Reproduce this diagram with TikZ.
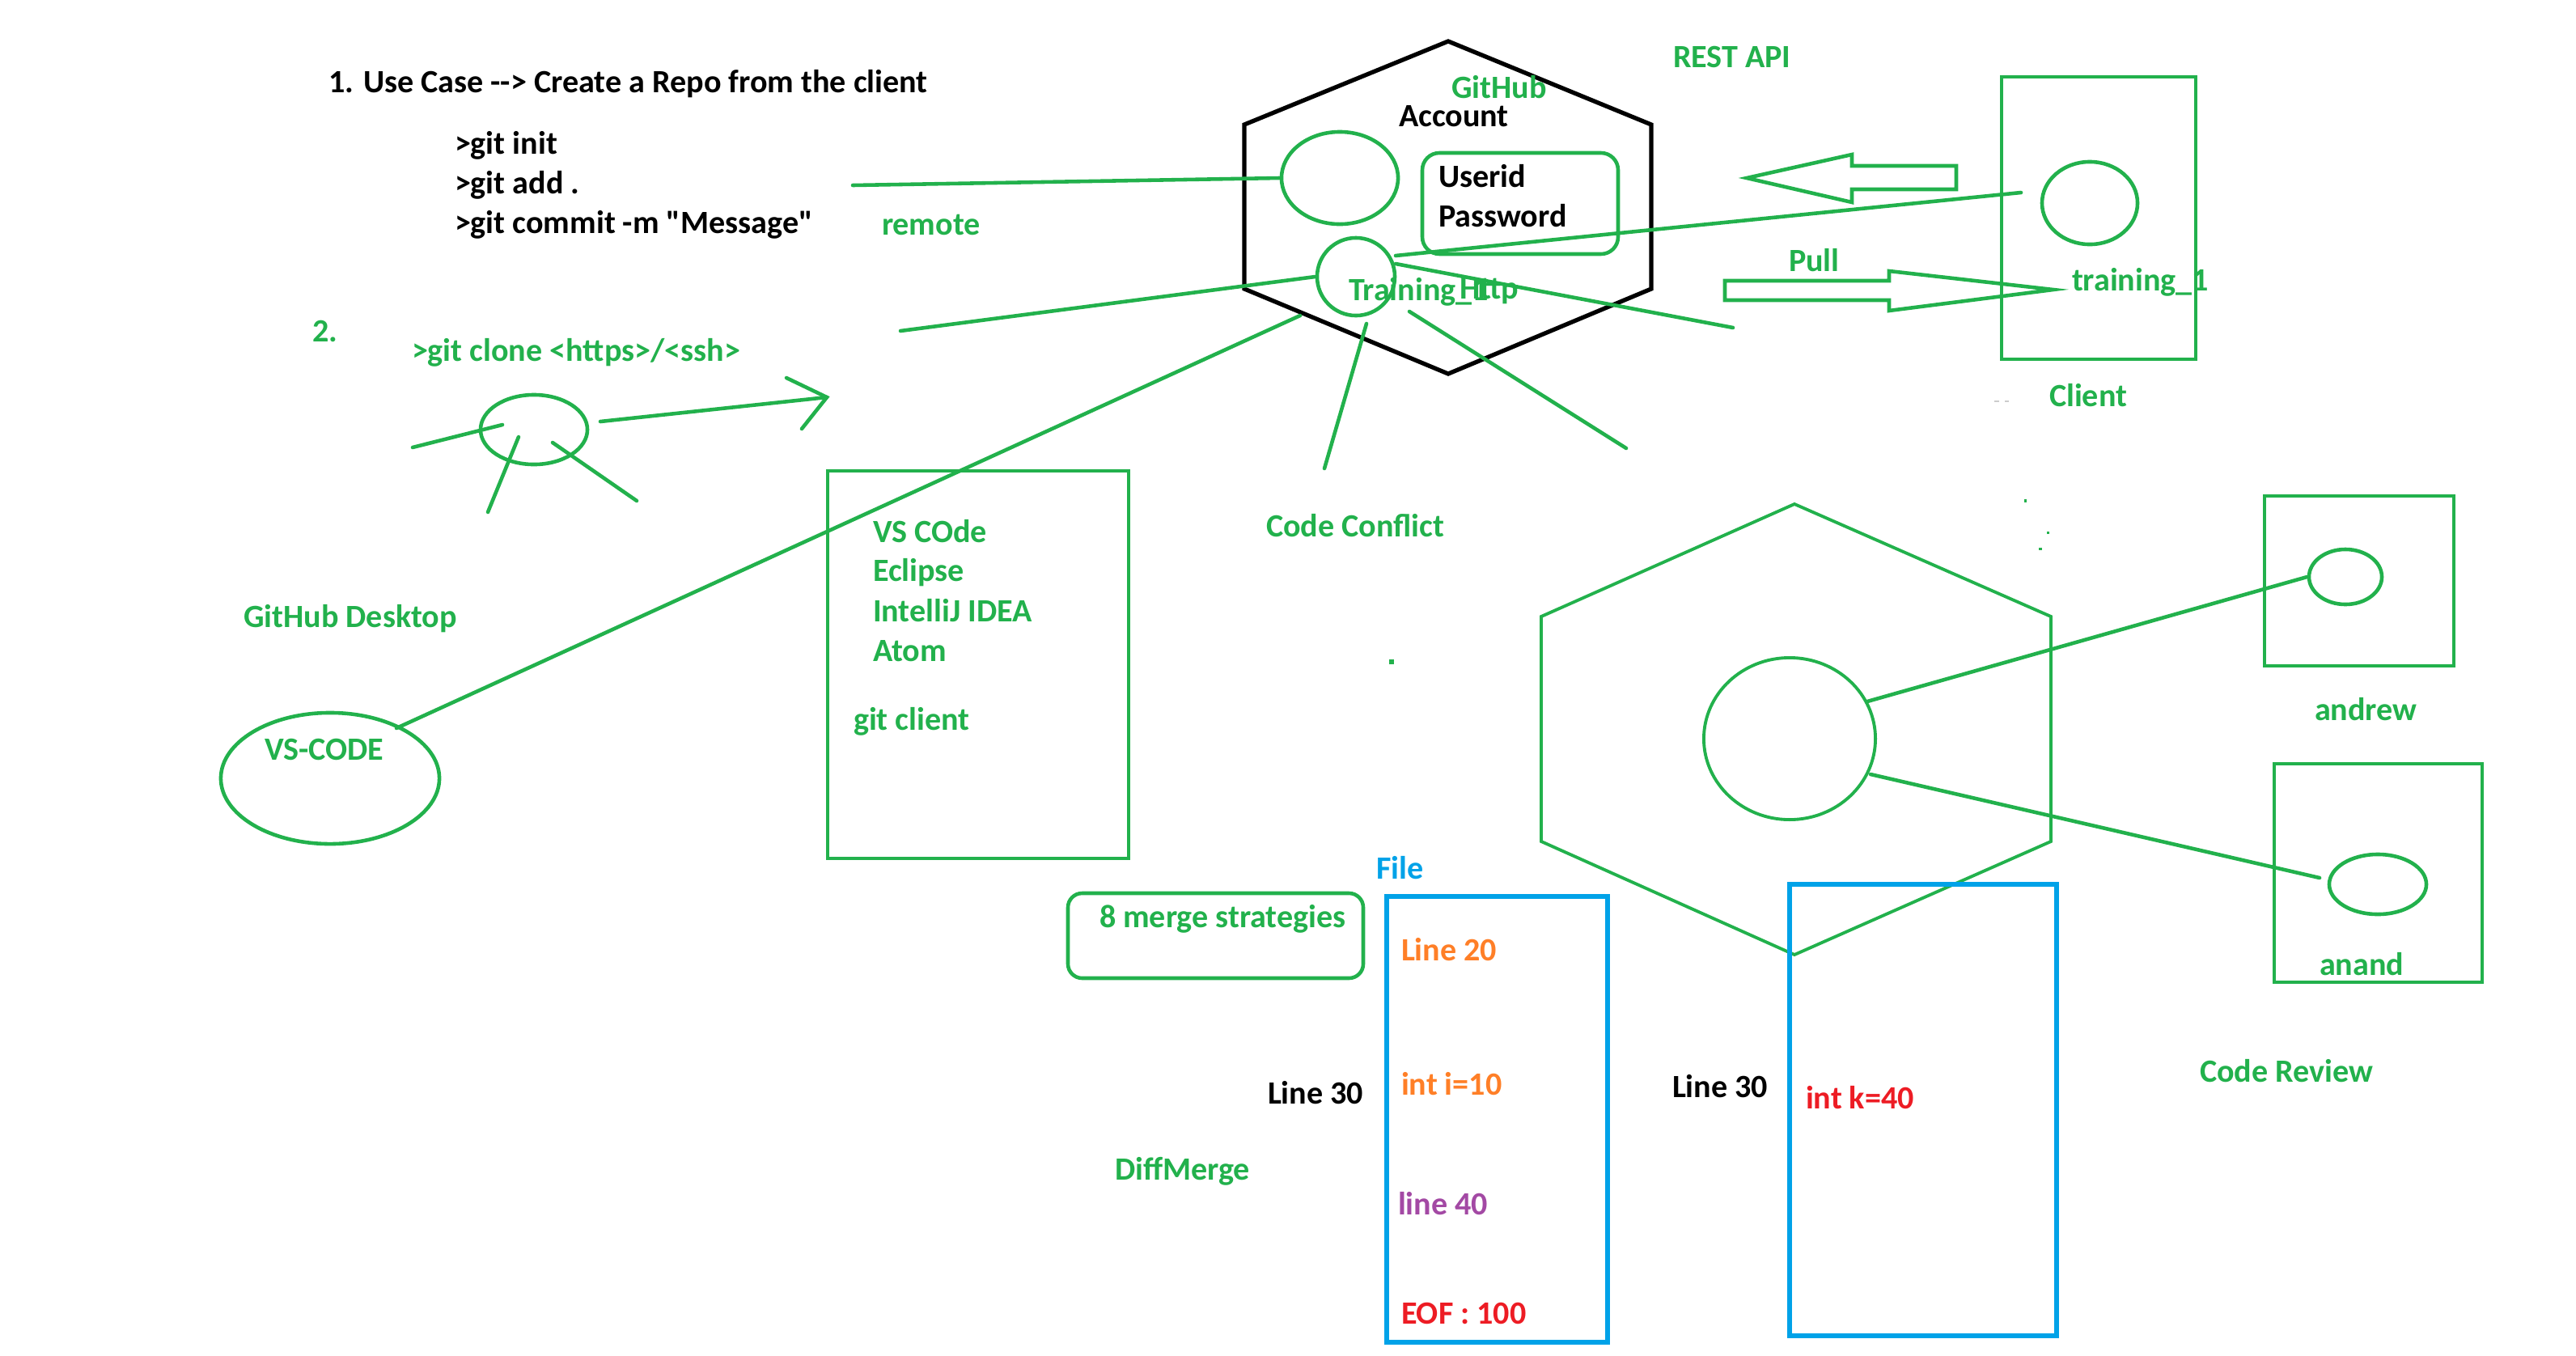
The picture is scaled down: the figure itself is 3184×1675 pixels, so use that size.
\documentclass[tikz,border=0pt]{standalone}
\usepackage{fontspec}
\setmainfont{Carlito}[Ligatures=TeXOff]
\usetikzlibrary{shapes.geometric}
\definecolor{pgreen}{HTML}{22B14C}
\definecolor{pblue}{HTML}{00A2E8}
\definecolor{porange}{HTML}{FF7F27}
\definecolor{ppurple}{HTML}{A349A4}
\definecolor{pred}{HTML}{ED1C24}
\begin{document}
\begin{tikzpicture}[x=0.01cm,y=-0.01cm,
  txt/.style={anchor=base west, inner sep=0pt, outer sep=0pt, font=\fontsize{11.4}{14}\selectfont\bfseries},
  gtxt/.style={txt, text=pgreen},
  gline/.style={draw=pgreen, line width=1.3pt, line cap=round},
  gshape/.style={draw=pgreen, line width=1.3pt},
  oval/.style={ellipse, draw=pgreen, line width=1.3pt, inner sep=0pt},
  bbox/.style={draw=pblue, line width=1.6pt},
  hexblack/.style={draw=black, line width=1.5pt, line join=miter},
  hexgreen/.style={draw=pgreen, line width=1.1pt, line join=miter}]
\useasboundingbox (0,0) rectangle (3184,1675);

% ---------- top-left texts ----------
\node[txt] (title) at (406,114) {1. Use Case --> Create a Repo from the client};
\node[txt] (cmd1) at (562,190) {>git init};
\node[txt] (cmd2) at (562,239) {>git add .};
\node[txt] (cmd3) at (562,288) {>git commit -m "Message"};
\node[gtxt] (remote) at (1090,290) {remote};
\node[gtxt] (two) at (386,422) {2.};
\node[gtxt] (clone) at (509,446) {>git clone <https>/<ssh>};

% ---------- clone sketch ----------
\node[oval, minimum width=1.32cm, minimum height=0.86cm] (clonecirc) at (660,531) {};
\coordinate (cl1a) at (510,553); \coordinate (cl1b) at (621,525);
\coordinate (cl2a) at (641,540); \coordinate (cl2b) at (603,633);
\coordinate (cl3a) at (683,547); \coordinate (cl3b) at (787,619);
\coordinate (cla) at (742,521); \coordinate (clb) at (1022,491);
\coordinate (clh1) at (972,467); \coordinate (clh2) at (991,530);
\draw[gline] (cl1a) -- (cl1b);
\draw[gline] (cl2a) -- (cl2b);
\draw[gline] (cl3a) -- (cl3b);
\draw[gline] (cla) -- (clb);
\draw[gline, line join=miter] (clh1) -- (clb) -- (clh2);

% ---------- GitHub hexagon ----------
\draw[hexblack] (1790,51) -- (2041,154) -- (2041,357) -- (1790,462) -- (1538,357) -- (1538,154) -- cycle;
\node[gtxt] (github) at (1794,121) {GitHub};
\node[txt] (account) at (1729,156) {Account};
\node[oval, minimum width=1.44cm, minimum height=1.14cm] (repo) at (1656,220) {};
\draw[gshape, rounded corners=6pt] (1758,189) rectangle (2000,314);
\node[txt] (userid) at (1778,231) {Userid};
\node[txt] (password) at (1778,280) {Password};
\node[oval, minimum width=0.96cm, minimum height=0.96cm] (training) at (1676,342) {};
\node[gtxt] (trainingtxt) at (1667,371) {Training\_1};
\node[gtxt] (http) at (1804,369) {Http};

\coordinate (remA) at (1054,229);
\draw[gline] (remA) -- (repo.west);
\coordinate (trL) at (1113,409);
\draw[gline] (training.west) -- (trL);
\coordinate (trA) at (1725,316); \coordinate (clientIn) at (2498,238);
\draw[gline] (trA) -- (clientIn);
\coordinate (trB) at (1725,326); \coordinate (trBend) at (2142,405);
\draw[gline] (trB) -- (trBend);
\coordinate (hx1) at (1607,390);
\coordinate (hx2) at (1689,400); \coordinate (hx2end) at (1637,579);
\coordinate (hx3) at (1742,385); \coordinate (hx3end) at (2010,554);
\draw[gline] (hx2) -- (hx2end);
\draw[gline] (hx3) -- (hx3end);

% ---------- REST API / client ----------
\node[gtxt] (rest) at (2068,83) {REST API};
\draw[gshape, line join=miter] (2159,220) -- (2289,191) -- (2289,205) -- (2418,205) -- (2418,234) -- (2289,234) -- (2289,250) -- cycle;
\draw[gshape, line join=miter] (2132,347) -- (2335,347) -- (2335,335) -- (2538,358) -- (2335,384) -- (2335,371) -- (2132,371) -- cycle;
\node[gtxt] (pull) at (2211,335) {Pull};
\draw[gshape] (2474,95) rectangle (2714,444);
\node[oval, minimum width=1.18cm, minimum height=1.02cm] (clientcirc) at (2583,251) {};
\node[gtxt] (training1) at (2561,359) {training\_1};
\node[gtxt] (client) at (2533,502) {Client};
\draw[gray!40, line width=0.4pt] (2465,496) -- (2471,496) (2478,496) -- (2483,496);

% ---------- Code conflict ----------
\node[gtxt] (conflict) at (1565,663) {Code Conflict};
\fill[pgreen] (1717,815) rectangle (1723,821);

% ---------- left: GitHub Desktop / VS-CODE ----------
\node[gtxt] (desktop) at (301,775) {GitHub Desktop};
\node[oval, minimum width=2.70cm, minimum height=1.62cm] (vscode) at (408,962) {};
\node[gtxt] (vscodetxt) at (327,939) {VS-CODE};
\coordinate (vsend) at (490,900);
\draw[gline] (hx1) -- (vsend);

% ---------- git client box ----------
\draw[gshape] (1023,582) rectangle (1395,1061);
\node[gtxt] (ide1) at (1079,670) {VS COde};
\node[gtxt] (ide2) at (1079,718) {Eclipse};
\node[gtxt] (ide3) at (1079,768) {IntelliJ IDEA};
\node[gtxt] (ide4) at (1079,817) {Atom};
\node[gtxt] (gitclient) at (1055,902) {git client};

% ---------- merge area ----------
\node[txt, text=pblue] (file) at (1701,1086) {File};
\draw[gshape, rounded corners=5pt] (1320,1104) rectangle (1685,1209);
\node[gtxt] (merge) at (1359,1146) {8 merge strategies};
\draw[bbox] (1714,1108) rectangle (1987,1659);
\node[txt, text=porange] (l20) at (1732,1187) {Line 20};
\node[txt, text=porange] (inti) at (1732,1353) {int i=10};
\node[txt, text=ppurple] (l40) at (1728,1501) {line 40};
\node[txt, text=pred] (eof) at (1732,1636) {EOF : 100};
\node[txt] (l30a) at (1567,1364) {Line 30};
\node[gtxt] (diff) at (1378,1458) {DiffMerge};
\node[txt] (l30b) at (2067,1356) {Line 30};

% ---------- code review hexagon ----------
\draw[hexgreen] (2218,623) -- (2535,762) -- (2535,1040) -- (2218,1180) -- (1905,1040) -- (1905,762) -- cycle;
\draw[bbox] (2212,1093) rectangle (2542,1651);
\node[txt, text=pred] (intk) at (2232,1370) {int k=40};
\node[oval, line width=1.1pt, minimum width=2.12cm, minimum height=2.00cm] (central) at (2212,913) {};
\draw[gshape] (2799,613) rectangle (3033,823);
\node[oval, minimum width=0.90cm, minimum height=0.68cm] (andrewc) at (2899,713) {};
\node[gtxt] (andrew) at (2861,890) {andrew};
\draw[gshape] (2811,944) rectangle (3068,1214);
\node[oval, minimum width=1.20cm, minimum height=0.74cm] (anandc) at (2939,1093) {};
\node[gtxt] (anand) at (2867,1205) {anand};
\coordinate (ce1) at (2308,867); \coordinate (ce2) at (2312,957);
\coordinate (an1) at (2867,1085);
\draw[gline] (ce1) -- (andrewc.west);
\draw[gline] (ce2) -- (an1);
\node[gtxt] (review) at (2719,1337) {Code Review};
\fill[pgreen] (2502,617) rectangle (2505,621);
\fill[pgreen] (2530,657) rectangle (2533,660);
\fill[pgreen] (2520,677) rectangle (2524,680);
\end{tikzpicture}
\end{document}
